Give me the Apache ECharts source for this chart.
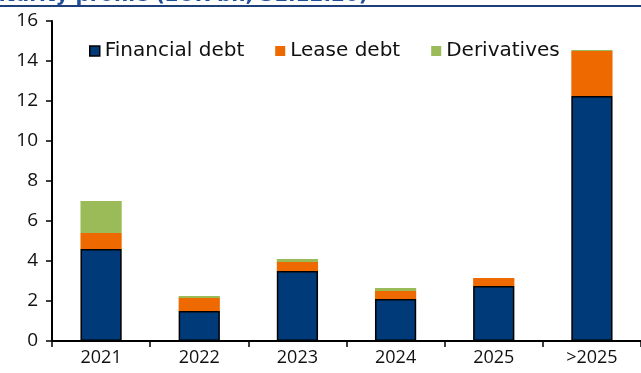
<!DOCTYPE html>
<html>
<head>
<meta charset="utf-8">
<script src="https://cdn.jsdelivr.net/npm/echarts@6/dist/echarts.min.js"></script>
<style>html,body{margin:0;padding:0;background:#fff;}#c{width:641px;height:373px;}</style>
</head>
<body>
<div id="c"></div>
<script>
const categories = ['2021', '2022', '2023', '2024', '2025', '>2025'];
const financialDebt = [4.6, 1.5, 3.5, 2.1, 2.75, 12.25];
const leaseDebt = [0.8, 0.65, 0.45, 0.4, 0.4, 2.25];
const derivatives = [1.6, 0.1, 0.15, 0.15, 0.0, 0.05];
const yTicks = [0, 2, 4, 6, 8, 10, 12, 14, 16];
const titleText = 'Debt maturity profile (EUR bn, 31.12.20)';

const FONT = 'Open Sans';
const LFONT = 'DejaVu Sans';
const chart = echarts.init(document.getElementById('c'));
chart.setOption({
  animation: false,
  textStyle: { fontFamily: FONT },
  graphic: [
    { type: 'text', right: 641 - 368, top: -14,
      style: { text: titleText, font: 'bold 20px "DejaVu Sans"', fill: '#1F4E9A' } },
    { type: 'rect', shape: { x: 0, y: 5, width: 641, height: 2 }, style: { fill: '#1F3F7A' } }
  ],
  legend: {
    left: 84, top: 36, itemWidth: 10, itemHeight: 10, itemGap: 31,
    icon: 'rect',
    textStyle: { fontFamily: LFONT, fontSize: 20, color: '#111' },
    data: [
      { name: 'Financial debt', itemStyle: { borderColor: '#000', borderWidth: 1.5 } },
      { name: 'Lease debt' },
      { name: 'Derivatives' }
    ]
  },
  grid: { left: 52, right: -2, top: 21, bottom: 32, containLabel: false },
  xAxis: {
    type: 'category', data: categories,
    axisLine: { lineStyle: { color: '#000', width: 2 } },
    axisTick: { show: true, length: 6, lineStyle: { color: '#000', width: 1.5 } },
    axisLabel: { fontFamily: FONT, fontSize: 18, color: '#111', margin: 8 }
  },
  yAxis: {
    type: 'value', min: yTicks[0], max: yTicks[yTicks.length - 1], interval: 2,
    axisLine: { show: true, lineStyle: { color: '#000', width: 2 } },
    axisTick: { show: true, length: 6, lineStyle: { color: '#000', width: 1.5 } },
    splitLine: { show: false },
    axisLabel: { fontFamily: FONT, fontSize: 19, color: '#111', margin: 14 }
  },
  series: [
    { name: 'Financial debt', type: 'bar', stack: 'd', data: financialDebt, barWidth: '42%',
      itemStyle: { color: '#003A78', borderColor: '#000', borderWidth: 1.5 } },
    { name: 'Lease debt', type: 'bar', stack: 'd', data: leaseDebt,
      itemStyle: { color: '#EE6A00' } },
    { name: 'Derivatives', type: 'bar', stack: 'd', data: derivatives,
      itemStyle: { color: '#9BBB59' } }
  ]
});
</script>
</body>
</html>
